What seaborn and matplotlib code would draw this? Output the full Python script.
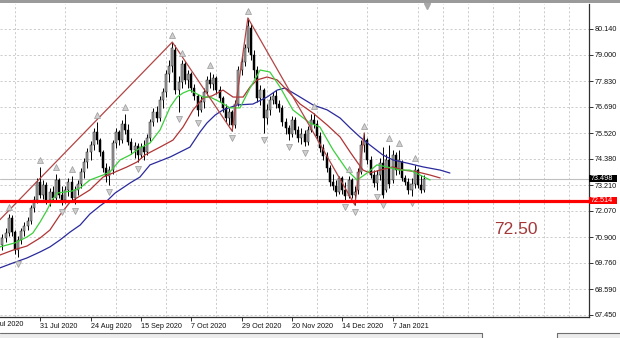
import matplotlib
matplotlib.use("Agg")
import matplotlib.pyplot as plt
import matplotlib.transforms as mtransforms
from matplotlib.patches import Rectangle
from matplotlib.lines import Line2D
import numpy as np
import pandas as pd
import seaborn as sns

# ---------------- data (daily OHLC) ----------------
opens = [70.56, 70.87, 71.09, 71.75, 71.13, 70.33, 70.78, 71.18, 71.40, 71.62,
         72.20, 72.55, 73.35, 72.77, 73.22, 72.55, 72.91, 72.64, 73.44, 72.77,
         72.55, 73.00, 73.35, 72.64, 73.00, 73.26, 73.80, 74.24, 74.68, 74.99,
         75.57, 75.21, 74.68, 73.97, 73.62, 73.88, 75.08, 75.57, 75.21, 75.93,
         75.66, 75.13, 74.77, 74.95, 74.55, 74.90, 74.68, 75.30, 76.01, 76.46,
         76.19, 76.99, 77.35, 78.14, 78.50, 79.21, 77.43, 77.79, 78.59, 77.88,
         78.14, 77.52, 77.17, 76.55, 76.90, 77.35, 77.88, 77.70, 77.97, 77.43,
         77.08, 76.64, 76.19, 76.46, 75.88, 76.81, 78.32, 78.68, 79.30, 80.18,
         78.99, 78.32, 77.08, 77.43, 76.19, 76.55, 76.99, 77.17, 76.81, 76.64,
         76.01, 75.75, 75.48, 76.10, 75.66, 75.30, 75.48, 75.13, 75.66, 76.10,
         75.93, 75.39, 74.86, 74.51, 73.97, 73.35, 73.17, 72.91, 73.53, 73.00,
         72.73, 73.44, 72.77, 73.00, 73.80, 74.99, 75.21, 74.33, 73.66, 73.31,
         73.66, 74.19, 73.00, 74.33, 73.44, 74.55, 73.88, 74.24, 73.53, 73.35,
         73.00, 73.26, 73.88, 73.22, 73.00]
closes = [70.87, 71.09, 71.75, 71.13, 70.33, 70.78, 71.18, 71.40, 71.62, 72.20,
          72.55, 73.35, 72.77, 73.22, 72.55, 72.91, 72.64, 73.44, 72.77, 72.55,
          73.00, 73.35, 72.64, 73.00, 73.26, 73.80, 74.24, 74.68, 74.99, 75.57,
          75.21, 74.68, 73.97, 73.62, 73.88, 75.08, 75.57, 75.21, 75.93, 75.66,
          75.13, 74.77, 74.95, 74.55, 74.90, 74.68, 75.30, 76.01, 76.46, 76.19,
          76.99, 77.35, 78.14, 78.50, 79.30, 77.43, 77.79, 78.59, 77.88, 78.14,
          77.52, 77.17, 76.55, 76.90, 77.35, 77.88, 77.70, 77.97, 77.43, 77.08,
          76.64, 76.19, 76.46, 75.88, 76.81, 78.32, 78.68, 79.30, 80.27, 78.99,
          78.32, 77.08, 77.43, 76.19, 76.55, 76.99, 77.17, 76.81, 76.64, 76.01,
          75.75, 75.48, 76.10, 75.66, 75.30, 75.48, 75.13, 75.66, 76.10, 75.93,
          75.39, 74.86, 74.51, 73.97, 73.35, 73.17, 72.91, 73.53, 73.00, 72.73,
          73.44, 72.77, 72.91, 73.80, 74.99, 75.21, 74.33, 73.66, 73.31, 73.66,
          74.19, 72.77, 74.33, 73.26, 74.55, 73.88, 74.33, 73.53, 73.35, 73.00,
          73.26, 73.88, 73.22, 73.00, 73.50]
highs = [71.04, 71.31, 71.93, 71.89, 71.22, 70.96, 71.31, 71.58, 71.80, 72.33,
         72.73, 73.53, 74.02, 73.44, 73.35, 73.09, 73.17, 73.71, 73.53, 73.17,
         73.17, 73.53, 73.62, 73.17, 73.44, 73.97, 74.42, 74.86, 75.17, 75.75,
         76.01, 75.30, 74.77, 74.19, 74.06, 75.21, 75.75, 75.66, 76.10, 76.37,
         75.93, 75.30, 75.13, 75.08, 75.08, 75.21, 75.48, 76.15, 76.64, 76.72,
         77.17, 77.52, 78.32, 78.76, 79.56, 79.43, 78.06, 78.76, 78.72, 78.32,
         78.23, 77.70, 77.26, 77.17, 77.52, 78.06, 78.23, 78.14, 78.06, 77.61,
         77.17, 76.81, 76.64, 76.55, 76.99, 78.50, 78.94, 79.47, 80.63, 80.36,
         79.21, 78.50, 77.66, 77.52, 76.81, 77.17, 77.35, 77.43, 76.99, 76.77,
         76.19, 75.88, 76.28, 76.24, 75.84, 75.75, 75.66, 75.84, 76.37, 76.41,
         76.10, 75.57, 75.04, 74.68, 74.11, 73.71, 73.44, 73.62, 73.62, 73.35,
         73.62, 73.53, 73.17, 73.97, 75.21, 75.53, 75.30, 74.51, 73.88, 73.88,
         74.42, 74.90, 74.59, 74.99, 74.77, 74.68, 74.77, 74.33, 73.66, 73.53,
         73.53, 74.11, 73.97, 73.66, 73.66]
lows = [70.33, 70.69, 70.96, 70.96, 70.16, 70.02, 70.60, 70.96, 71.22, 71.49,
        72.02, 72.42, 72.64, 72.60, 72.38, 72.29, 72.46, 72.55, 72.64, 72.33,
        72.42, 72.73, 72.51, 72.38, 72.77, 73.09, 73.53, 73.97, 74.33, 74.77,
        75.04, 74.51, 73.80, 73.35, 73.22, 73.71, 74.86, 74.99, 75.08, 75.48,
        74.99, 74.59, 74.42, 74.24, 74.42, 74.33, 74.55, 75.17, 75.84, 76.01,
        76.06, 76.64, 77.12, 77.79, 78.23, 77.26, 76.46, 77.52, 77.70, 77.52,
        77.35, 76.99, 76.28, 76.46, 76.64, 77.21, 77.52, 77.43, 77.26, 76.90,
        76.46, 76.01, 75.88, 75.61, 75.75, 76.72, 78.10, 78.50, 79.12, 78.76,
        77.97, 76.90, 76.77, 75.53, 75.93, 76.32, 76.81, 76.64, 76.46, 75.84,
        75.48, 75.21, 75.35, 75.48, 75.13, 75.04, 74.95, 74.99, 75.57, 75.75,
        75.21, 74.68, 74.33, 73.80, 73.17, 73.00, 72.73, 72.82, 72.82, 72.55,
        72.64, 72.64, 72.33, 72.82, 73.71, 74.68, 74.15, 73.53, 73.13, 73.00,
        73.44, 72.64, 72.91, 73.09, 73.31, 73.66, 73.71, 73.40, 73.22, 72.82,
        72.73, 73.09, 73.09, 72.86, 72.91]

# Alligator lines (bar position, price)
lips_x = [-0.8, 4.0, 7.8, 9.7, 12.0, 14.2, 15.8, 17.4, 19.9, 22.1, 24.7, 27.8, 32.0, 34.2,
          37.4, 40.6, 43.7, 46.9, 50.1, 53.3, 55.5, 57.4, 59.6, 61.8, 63.8, 66.0, 69.2,
          72.3, 75.5, 78.7, 81.9, 85.0, 88.2, 92.3, 97.7, 100.9, 105.1, 109.5, 112.7,
          115.9, 119.0, 122.2, 126.3, 129.5, 132.7, 135.9]
lips_y = [70.47, 70.65, 70.91, 71.09, 71.58, 72.11, 72.55, 72.86, 72.91, 72.95, 73.09, 73.44,
          73.66, 73.80, 74.33, 74.55, 74.86, 75.08, 75.66, 76.68, 77.12, 77.30, 77.43, 77.26,
          77.12, 77.12, 76.90, 76.64, 76.64, 77.52, 78.32, 78.23, 77.57, 76.55, 75.97, 75.79,
          74.77, 73.88, 73.44, 73.75, 74.11, 74.02, 73.88, 73.88, 73.66, 73.44]
teeth_x = [-0.8, 3.4, 7.8, 12.0, 15.1, 18.3, 21.5, 24.7, 27.8, 32.0, 35.1, 39.6, 42.8, 45.3,
           50.1, 54.2, 57.4, 60.6, 63.8, 66.6, 70.1, 73.3, 76.5, 78.7, 80.9, 84.1, 87.3,
           90.4, 94.6, 98.7, 103.2, 107.3, 110.5, 112.7, 114.6, 116.8, 120.0, 124.1, 127.3,
           131.8, 135.9, 139.1]
teeth_y = [70.11, 70.33, 70.51, 70.87, 71.22, 71.89, 72.46, 72.73, 73.00, 73.57, 73.75, 74.02,
           74.24, 74.55, 74.90, 75.21, 75.79, 76.55, 77.08, 77.17, 77.43, 77.12, 77.12, 77.57,
           77.88, 78.01, 77.88, 77.43, 76.81, 76.41, 75.88, 75.35, 74.68, 74.24, 73.88, 73.75,
           73.88, 74.02, 73.88, 73.80, 73.66, 73.53]
jaw_x = [-0.8, 3.4, 7.8, 12.0, 15.1, 18.3, 21.5, 24.7, 27.8, 31.0, 33.2, 35.8, 40.6, 43.7,
         46.9, 53.3, 59.6, 62.8, 65.0, 67.6, 70.1, 74.6, 79.6, 84.1, 87.3, 89.8, 94.6, 98.7,
         103.2, 107.3, 110.5, 113.6, 116.8, 120.9, 124.1, 128.6, 133.7, 139.1, 142.2]
jaw_y = [69.54, 69.76, 69.98, 70.25, 70.47, 70.78, 71.13, 71.44, 71.93, 72.29, 72.51, 72.86,
         73.31, 73.57, 74.11, 74.46, 74.90, 75.57, 75.97, 76.32, 76.55, 76.77, 76.81, 77.12,
         77.43, 77.52, 77.12, 76.77, 76.55, 76.19, 75.75, 75.35, 74.99, 74.55, 74.33, 74.19,
         74.02, 73.88, 73.75]

# ZigZag swing points
zz_x = [-13.5, 54, 73, 78, 112, 115]
zz_y = [69.85, 79.56, 75.61, 80.63, 72.33, 75.53]

# Fractal bars
frac_up = [2, 12, 17, 22, 30, 39, 54, 57, 66, 78, 99, 110, 115, 123, 126, 131]
frac_dn = [5, 19, 23, 34, 43, 56, 62, 73, 83, 91, 96, 109, 112, 119, 121, 130]

support_level = 72.514
last_price = 73.498
level_text = "72.50"

ytick_vals = [80.140, 79.000, 77.830, 76.690, 75.520, 74.380, 73.210, 72.070,
              70.900, 69.760, 68.590, 67.450]
xtick_bars = [12, 28, 44, 60, 76, 92, 108, 124]
xtick_labels = ["31 Jul 2020", "24 Aug 2020", "15 Sep 2020", "7 Oct 2020",
                "29 Oct 2020", "20 Nov 2020", "14 Dec 2020", "7 Jan 2021"]
first_label = "9 Jul 2020"

# ---------------- figure ----------------
sns.set_theme(style="white")
plt.rcParams['font.family'] = ['Liberation Sans', 'DejaVu Sans']

W, H = 620, 338
fig = plt.figure(figsize=(W / 100, H / 100), dpi=100)
fig.patch.set_facecolor('white')
ax = fig.add_axes([0, (H - 317) / H, 589 / W, (317 - 4) / H])
ax.set_facecolor('white')

df = pd.DataFrame({'open': opens, 'high': highs, 'low': lows, 'close': closes})
df['bar'] = np.arange(len(df))
bull = df['close'] >= df['open']

ax.set_xlim(-0.76, 186.4)
ax.set_ylim(67.361, 81.249)

# grid
ax.set_xticks(np.arange(4, 187, 8), minor=True)
ax.grid(which='minor', axis='x', color='#c4c4c4', linestyle=(0, (2.5, 2.5)), linewidth=0.6)
ax.grid(which='major', axis='y', color='#c4c4c4', linestyle=(0, (2.5, 2.5)), linewidth=0.6)
ax.grid(which='major', axis='x', visible=False)

# price lines
ax.axhline(last_price, color='#c0c0c0', lw=0.8, zorder=2)
ax.axhline(support_level, color='#ff0000', lw=2.3, zorder=7)

# candles
ax.vlines(df['bar'], df['low'], df['high'], color='black', lw=0.7, zorder=3)
body_bot = np.minimum(df['open'], df['close'])
body_h = np.maximum((df['close'] - df['open']).abs(), 0.025)
ax.bar(df['bar'][bull], body_h[bull], bottom=body_bot[bull], width=0.64,
       color='#a4a4a4', edgecolor='#202020', linewidth=0.35, zorder=4)
ax.bar(df['bar'][~bull], body_h[~bull], bottom=body_bot[~bull], width=0.64,
       color='black', edgecolor='black', linewidth=0.35, zorder=4)

# alligator + zigzag
sns.lineplot(x=jaw_x, y=jaw_y, ax=ax, color='#2a2a9c', lw=0.9, sort=False, estimator=None, zorder=5)
sns.lineplot(x=teeth_x, y=teeth_y, ax=ax, color='#b03434', lw=0.9, sort=False, estimator=None, zorder=5)
sns.lineplot(x=lips_x, y=lips_y, ax=ax, color='#3ccf3c', lw=0.9, sort=False, estimator=None, zorder=5)
sns.lineplot(x=zz_x, y=zz_y, ax=ax, color='#b24545', lw=0.9, sort=False, estimator=None, zorder=6)

# fractals
ax.plot(frac_up, df['high'].values[frac_up] + 0.30, linestyle='none', marker='^',
        markerfacecolor='#cfcfcf', markeredgecolor='#9a9a9a', markeredgewidth=0.5,
        ms=4.2, zorder=6)
ax.plot(frac_dn, df['low'].values[frac_dn] - 0.30, linestyle='none', marker='v',
        markerfacecolor='#cfcfcf', markeredgecolor='#9a9a9a', markeredgewidth=0.5,
        ms=4.2, zorder=6)

# chart shift marker
ax.plot([135], [0.993], transform=ax.get_xaxis_transform(), marker='v', color='#a8a8a8',
        ms=4.5, clip_on=False, zorder=8)

# axes styling
for s in ['left', 'top']:
    ax.spines[s].set_visible(False)
for s in ['right', 'bottom']:
    ax.spines[s].set_color('#303030')
    ax.spines[s].set_linewidth(0.9)

ax.yaxis.tick_right()
ax.set_yticks(ytick_vals)
ax.set_yticklabels([f"{v:.3f}" for v in ytick_vals])
ax.tick_params(axis='y', which='major', right=True, length=3, width=0.6, pad=1.2,
               labelsize=5.2, colors='#111111')
ax.set_xticks(xtick_bars)
ax.set_xticklabels(xtick_labels, ha='left')
ax.tick_params(axis='x', which='major', bottom=True, length=3, width=0.6, pad=1.0,
               labelsize=5.2, colors='#111111')
ax.tick_params(axis='x', which='minor', bottom=False, length=0)
ax.set_xlabel('')
ax.set_ylabel('')
ax.text(-4, -0.012, first_label, transform=ax.get_xaxis_transform(), ha='left', va='top',
        fontsize=5.2, color='#111111', clip_on=False)

# price label boxes on the right scale
trans = mtransforms.blended_transform_factory(fig.transFigure, ax.transData)
bh = 7 * (81.249 - 67.361) / 313
for val, bg in [(last_price, 'black'), (support_level, '#ff0000')]:
    ax.add_patch(Rectangle((589 / W, val - bh / 2), 28 / W, bh, transform=trans,
                           facecolor=bg, edgecolor='none', clip_on=False, zorder=10))
    ax.text(591 / W, val, f"{val:.3f}", transform=trans, color='white', fontsize=5.2,
            ha='left', va='center', clip_on=False, zorder=11)

# level label
ax.text(0.876, 0.2796, level_text, transform=ax.transAxes, fontsize=12.5,
        color='#a33838', ha='center', va='center', zorder=9)

# window frame details
fig.add_artist(Rectangle((0, (H - 2.5) / H), 1, 2.5 / H, transform=fig.transFigure,
                         facecolor='#9a9a9a', edgecolor='none'))
yb = 5 / H
fig.add_artist(Rectangle((0, 0), 1, yb, transform=fig.transFigure,
                         facecolor='#ececec', edgecolor='none'))
fig.add_artist(Rectangle((482 / W, 0), 75 / W, yb, transform=fig.transFigure,
                         facecolor='white', edgecolor='none'))
for xs, ys in [([0, 482 / W], [yb, yb]), ([482 / W, 482 / W], [0, yb]),
               ([557 / W, 557 / W], [0, yb]), ([557 / W, 1], [yb, yb])]:
    fig.add_artist(Line2D(xs, ys, transform=fig.transFigure, color='#707070', lw=0.8))

fig.savefig('out.png', dpi=100)
